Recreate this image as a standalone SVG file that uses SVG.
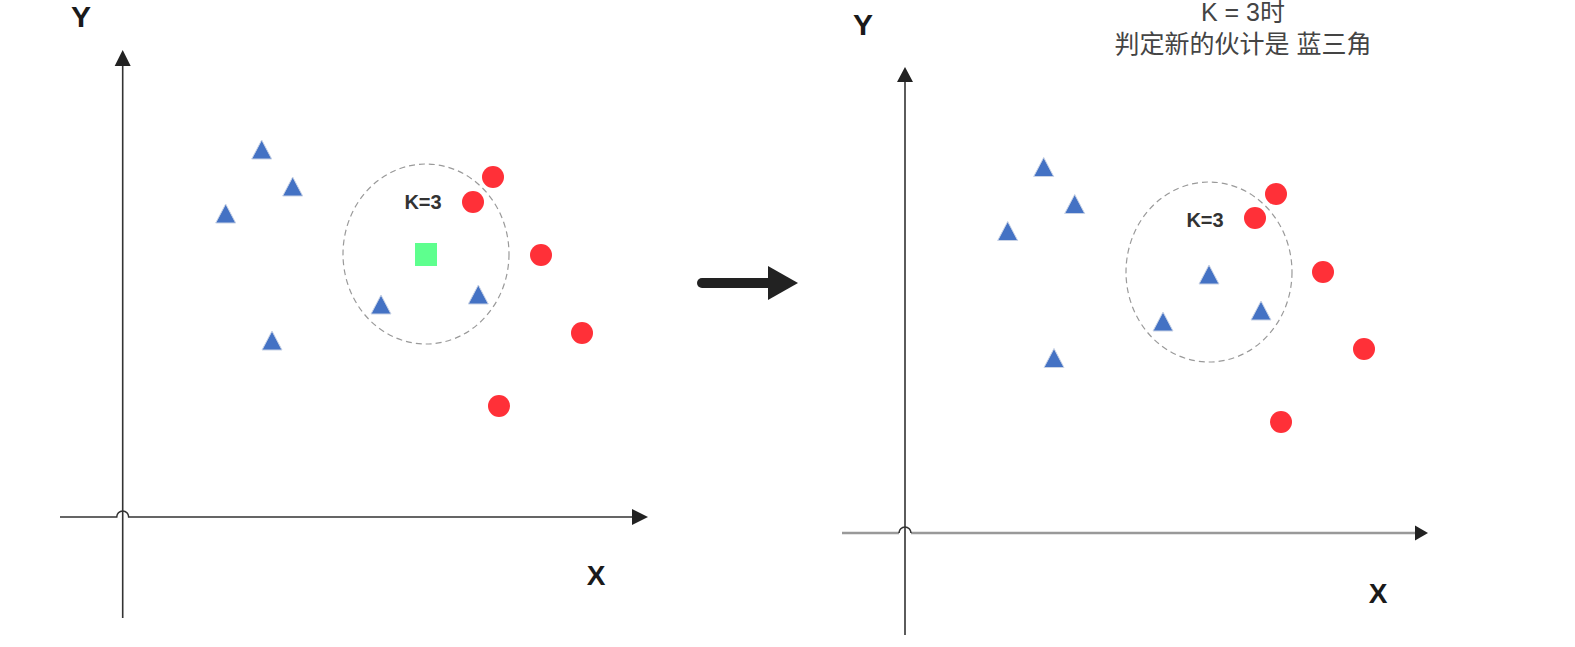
<svg xmlns="http://www.w3.org/2000/svg" xmlns:xlink="http://www.w3.org/1999/xlink" width="1575" height="647" viewBox="0 0 1575 647">
<style>
.tri{fill:#4472C4;stroke:#c9d3e6;stroke-width:1}
.red{fill:#FF3038}
.ring{fill:none;stroke:#9a9a9a;stroke-width:1.2;stroke-dasharray:6 4}
.axis{fill:none;stroke:#333;stroke-width:1.6}
.axisg{fill:none;stroke:#999;stroke-width:2.6}
.lab{font-family:"Liberation Sans",Arial,sans-serif;font-weight:bold;fill:#1a1a1a;text-anchor:middle}
.k{font-family:"Liberation Sans",Arial,sans-serif;font-weight:bold;font-size:20px;fill:#333;text-anchor:middle}
.title{font-family:"Liberation Sans","Noto Sans CJK SC",sans-serif;font-size:25px;fill:#444;text-anchor:middle}
.head{fill:#222}
</style>
<defs>
<path id="t" d="M0,-10 L10,9 L-10,9 Z"/>
</defs>
<rect width="1575" height="647" fill="#fff"/>

<g id="connectors">
  <!-- left axes -->
  <line class="axis" x1="122.7" y1="64" x2="122.7" y2="618"/>
  <polygon class="head" points="122.7,50 114.7,66 130.7,66"/>
  <path class="axis" d="M60,517 H116.7 A6,6 0 0 1 128.7,517 H634"/>
  <polygon class="head" points="648,517 632,509 632,525"/>
  <!-- right axes -->
  <path class="axisg" d="M842,533 H899 M911,533 H1416"/>
  <path class="axis" stroke="#444" d="M899,533 A6,6 0 0 1 911,533"/>
  <line class="axis" stroke="#444" x1="905" y1="80" x2="905" y2="635"/>
  <polygon class="head" points="905,67 897,82 913,82"/>
  <polygon class="head" points="1428,533 1415,525.5 1415,540.5"/>
  <!-- transition arrow -->
  <line x1="702" y1="283" x2="772" y2="283" stroke="#222" stroke-width="10" stroke-linecap="round"/>
  <polygon class="head" points="768,266 798,283 768,300"/>
</g>

<g id="left-labels">
  <text class="lab" x="81" y="27" font-size="30">Y</text>
  <text class="lab" x="596" y="585" font-size="28">X</text>
</g>

<g id="left-circle">
  <ellipse class="ring" cx="426" cy="254" rx="83" ry="90"/>
  <text class="k" x="423" y="209">K=3</text>
</g>

<g id="left-new-point">
  <rect x="415" y="243" width="22" height="23" fill="#5EFF8E"/>
</g>

<g id="left-triangles">
  <use xlink:href="#t" class="tri" x="261.7" y="150"/>
  <use xlink:href="#t" class="tri" x="292.7" y="187"/>
  <use xlink:href="#t" class="tri" x="225.7" y="214"/>
  <use xlink:href="#t" class="tri" x="381" y="305"/>
  <use xlink:href="#t" class="tri" x="478.3" y="295"/>
  <use xlink:href="#t" class="tri" x="272" y="341"/>
</g>

<g id="left-circles">
  <circle class="red" cx="493" cy="177" r="11"/>
  <circle class="red" cx="473" cy="202" r="11"/>
  <circle class="red" cx="541" cy="255" r="11"/>
  <circle class="red" cx="582" cy="333" r="11"/>
  <circle class="red" cx="499" cy="406" r="11"/>
</g>

<g id="title">
  <text class="title" x="1243" y="21">K = 3时</text>
  <text class="title" x="1243" y="53">判定新的伙计是 蓝三角</text>
</g>

<g id="right-labels">
  <text class="lab" x="863" y="35" font-size="30">Y</text>
  <text class="lab" x="1378" y="603" font-size="28">X</text>
</g>

<g id="right-circle">
  <ellipse class="ring" cx="1209" cy="272" rx="83" ry="90"/>
  <text class="k" x="1205" y="227">K=3</text>
</g>

<g id="right-triangles">
  <use xlink:href="#t" class="tri" x="1043.7" y="167.5"/>
  <use xlink:href="#t" class="tri" x="1074.7" y="204.5"/>
  <use xlink:href="#t" class="tri" x="1007.7" y="231.5"/>
  <use xlink:href="#t" class="tri" x="1054" y="358.5"/>
  <use xlink:href="#t" class="tri" x="1209" y="275"/>
  <use xlink:href="#t" class="tri" x="1163" y="322"/>
  <use xlink:href="#t" class="tri" x="1261" y="311"/>
</g>

<g id="right-circles">
  <circle class="red" cx="1276" cy="194" r="11"/>
  <circle class="red" cx="1255" cy="218" r="11"/>
  <circle class="red" cx="1323" cy="272" r="11"/>
  <circle class="red" cx="1364" cy="349" r="11"/>
  <circle class="red" cx="1281" cy="422" r="11"/>
</g>
</svg>
